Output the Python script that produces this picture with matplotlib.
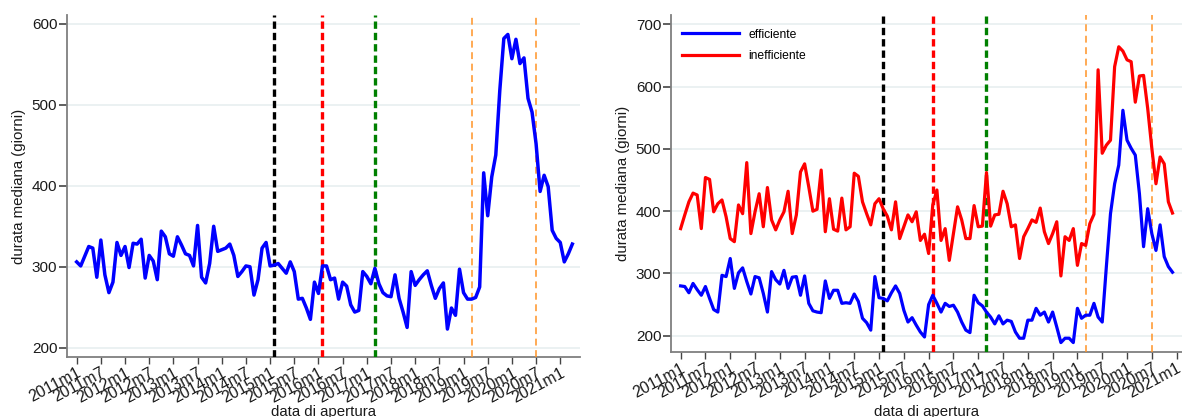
import numpy as np
import matplotlib
matplotlib.use('Agg')
import matplotlib.pyplot as plt

plt.rcParams['font.family'] = ['Liberation Sans', 'DejaVu Sans']

# durata mediana mensile, a partire da 2011m1
durata_tot = [306, 301, 313, 325, 323, 287, 333, 290, 268, 281,
              330, 314, 325, 299, 329, 328, 334, 286, 314, 307,
              284, 344, 337, 316, 313, 337, 327, 316, 314, 301,
              351, 287, 280, 304, 350, 319, 321, 323, 328, 314,
              288, 294, 301, 300, 265, 284, 323, 330, 301, 302,
              304, 298, 292, 306, 294, 260, 261, 249, 235, 281,
              267, 301, 301, 284, 286, 260, 281, 276, 253, 244,
              246, 294, 288, 279, 298, 279, 268, 264, 263, 290,
              261, 244, 225, 294, 277, 284, 290, 295, 277, 261,
              273, 280, 223, 249, 240, 297, 268, 260, 260, 262,
              275, 416, 363, 411, 438, 518, 582, 587, 557, 581,
              551, 558, 508, 491, 452, 393, 413, 399, 345, 335,
              330, 306, 316, 328]

durata_eff = [280, 279, 269, 284, 274, 265, 279, 260, 242, 238,
              297, 295, 324, 276, 301, 309, 287, 267, 295, 293,
              268, 238, 303, 290, 283, 305, 276, 294, 295, 265,
              296, 252, 240, 238, 237, 288, 260, 273, 273, 252,
              253, 252, 267, 255, 228, 221, 209, 295, 261, 260,
              256, 269, 280, 268, 241, 222, 229, 217, 206, 198,
              250, 265, 252, 238, 252, 247, 249, 238, 222, 209,
              205, 265, 253, 248, 238, 230, 219, 232, 219, 225,
              223, 206, 196, 196, 225, 225, 244, 233, 238, 222,
              238, 214, 189, 196, 196, 189, 244, 228, 233, 233,
              252, 230, 222, 311, 396, 444, 474, 562, 514, 501,
              490, 428, 343, 404, 364, 337, 378, 327, 311, 302]

durata_ineff = [372, 394, 415, 429, 426, 372, 454, 451, 399, 412,
                418, 391, 356, 351, 410, 396, 478, 364, 399, 428,
                375, 438, 386, 370, 386, 399, 432, 364, 394, 463,
                476, 439, 400, 403, 466, 367, 420, 371, 368, 421,
                370, 375, 461, 456, 415, 396, 378, 412, 420, 404,
                392, 370, 415, 356, 375, 394, 383, 399, 353, 363,
                332, 410, 434, 353, 372, 321, 364, 407, 386, 356,
                356, 409, 375, 376, 462, 376, 394, 395, 432, 412,
                375, 378, 324, 359, 372, 386, 382, 405, 367, 348,
                364, 383, 296, 359, 353, 372, 313, 348, 345, 380,
                395, 627, 493, 506, 514, 632, 664, 657, 643, 640,
                575, 617, 618, 565, 501, 444, 487, 476, 415, 397]

# eventi (mesi dal 2011m1) e stile della linea verticale
eventi = [49, 61, 74, 98, 114]
colori_eventi = ['black', 'red', 'green', '#ff9326', '#ff9326']
spessi = [True, True, True, False, False]

tick_pos = list(range(0, 121, 6))
tick_lab = ['%dm%d' % (2011 + i // 2, 1 if i % 2 == 0 else 7) for i in range(len(tick_pos))]

W, H = 1182, 417
fig = plt.figure(figsize=(W / 100, H / 100), dpi=100)
ax1 = fig.add_axes([67 / W, (H - 357) / H, 513 / W, 342 / H])
ax2 = fig.add_axes([671 / W, (H - 352.3) / H, 511 / W, 337.3 / H])


def stile_assi(ax, ylim, xlim, yticks, xlab_y):
    ax.set_xlim(*xlim)
    ax.set_ylim(*ylim)
    ax.set_yticks(yticks)
    ax.set_xticks(tick_pos)
    ax.set_xticklabels(tick_lab, rotation=28, ha='right', va='top', rotation_mode='anchor')
    ax.yaxis.grid(True, color='#e8eff0', lw=1.2)
    ax.set_axisbelow(True)
    for s in ['top', 'right']:
        ax.spines[s].set_visible(False)
    for s in ['left', 'bottom']:
        ax.spines[s].set_color('#7f7f7f')
        ax.spines[s].set_linewidth(1.3)
    ax.tick_params(axis='y', length=6, width=1.2, color='#444444', pad=1,
                   labelsize=11, labelcolor='#1a1a1a')
    ax.tick_params(axis='x', length=5, width=1.0, color='#444444', pad=1,
                   labelsize=11.5, labelcolor='#1a1a1a')
    ax.set_ylabel('durata mediana (giorni)', fontsize=10.8, color='#1a1a1a', labelpad=4)
    ax.set_xlabel('data di apertura', fontsize=10.8, color='#1a1a1a')
    ax.xaxis.set_label_coords(0.5, xlab_y)
    for m, c, sp in zip(eventi, colori_eventi, spessi):
        if sp:
            ax.axvline(m, color=c, lw=2.4, dashes=(2.2, 1.2), zorder=3)
        else:
            ax.axvline(m, color=c, lw=1.1, dashes=(4.5, 3.0), zorder=3)


mesi_tot = np.arange(len(durata_tot))
ax1.plot(mesi_tot, durata_tot, color='blue', lw=2.5, zorder=4)
stile_assi(ax1, (188.5, 611), (-2.4, 124.9), [200, 300, 400, 500, 600], -0.14)

mesi = np.arange(len(durata_eff))
ax2.plot(mesi, durata_eff, color='blue', lw=2.3, zorder=4, label='efficiente')
ax2.plot(mesi, durata_ineff, color='red', lw=2.3, zorder=4, label='inefficiente')
stile_assi(ax2, (173.4, 715), (-2.33, 121.3), [200, 300, 400, 500, 600, 700], -0.155)
ax2.legend(loc='upper left', frameon=False, fontsize=8.7, handlelength=4.7,
           handletextpad=0.8, labelspacing=0.8, borderaxespad=0.3,
           bbox_to_anchor=(0.005, 0.985))

fig.savefig('out.png', dpi=100)
